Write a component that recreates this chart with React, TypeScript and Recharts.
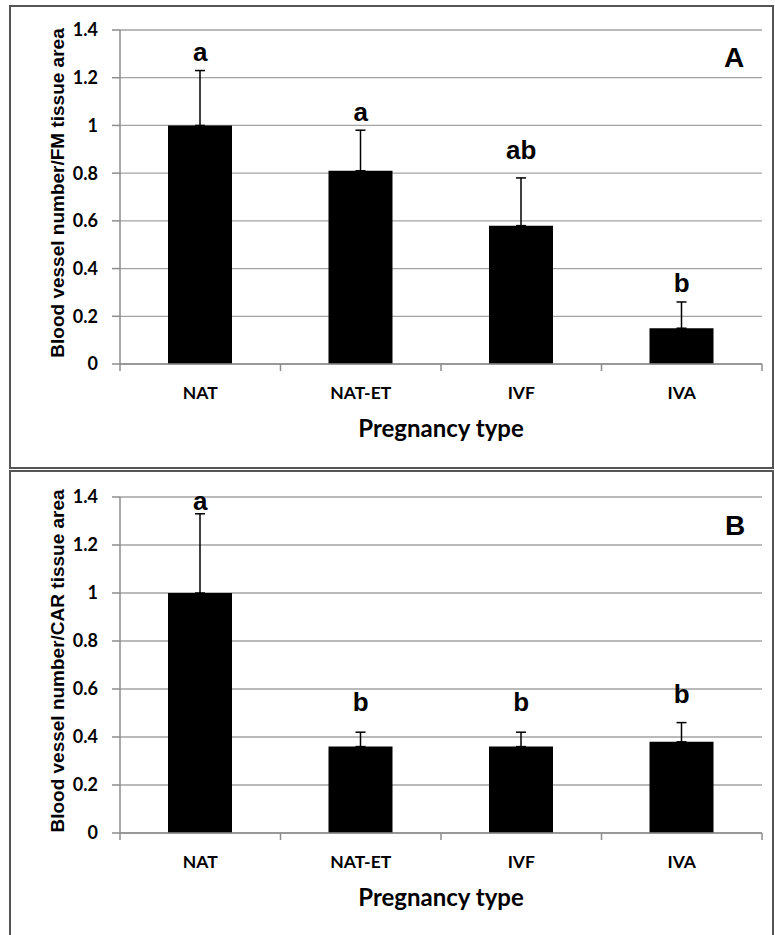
import React from 'react';
import { ComposedChart, Bar, Line, XAxis, YAxis, CartesianGrid, ErrorBar, LabelList } from 'recharts';

const categories = ['NAT', 'NAT-ET', 'IVF', 'IVA'];
const yTicks = [0, 0.2, 0.4, 0.6, 0.8, 1, 1.2, 1.4];

// panel A: FM tissue
const meanA = [1.0, 0.81, 0.58, 0.15];
const errTopA = [1.23, 0.98, 0.78, 0.26];
const lettersA = ['a', 'a', 'ab', 'b'];
const letterAtA = [1.27, 1.02, 0.86, 0.3];

// panel B: CAR tissue
const meanB = [1.0, 0.36, 0.36, 0.38];
const errTopB = [1.33, 0.42, 0.42, 0.46];
const lettersB = ['a', 'b', 'b', 'b'];
const letterAtB = [1.345, 0.51, 0.51, 0.54];

const CAL = 'Lato, "Open Sans", sans-serif';
const ARIAL = '"Liberation Sans", Arial, sans-serif';
const GRID = '#a3a3a3';
const AXIS = '#8c8c8c';
const X_TICK_MARGIN = 20;

function CatTick(props: any) {
  const { x, y, payload, index } = props;
  const half = payload && payload.offset ? payload.offset : 80.25;
  const axisY = y - X_TICK_MARGIN;
  return (
    <g>
      <line x1={x - half} x2={x - half} y1={axisY} y2={axisY + 7} stroke={AXIS} strokeWidth={1.5} />
      {index === categories.length - 1 && (
        <line x1={x + half} x2={x + half} y1={axisY} y2={axisY + 7} stroke={AXIS} strokeWidth={1.5} />
      )}
      <text x={x} y={axisY + 35} textAnchor="middle" fill="#000" fontFamily={CAL} fontWeight={700} fontSize={17.5}>
        {payload.value}
      </text>
    </g>
  );
}

function renderLetter(p: any) {
  return (
    <text x={p.x} y={p.y} textAnchor="middle" fill="#000" fontFamily={ARIAL} fontWeight={700} fontSize={26}>
      {p.value}
    </text>
  );
}

interface PanelProps {
  top: number;
  height: number;
  mean: number[];
  errTop: number[];
  letters: string[];
  letterAt: number[];
  yTitle: string;
}

function Panel({ top, height, mean, errTop, letters, letterAt, yTitle }: PanelProps) {
  const data = categories.map((c, i) => ({
    cat: c,
    mean: mean[i],
    err: [0, +(errTop[i] - mean[i]).toFixed(3)],
    letter: letters[i],
    letterAt: letterAt[i],
  }));

  return (
    <div style={{ position: 'absolute', left: 0, top }}>
      <ComposedChart width={775} height={height} data={data} margin={{ top: 30, right: 13, bottom: 0, left: 0 }}>
        <CartesianGrid vertical={false} stroke={GRID} strokeWidth={1.3} />
        <XAxis
          dataKey="cat"
          height={106}
          axisLine={{ stroke: AXIS, strokeWidth: 1.5 }}
          tickLine={false}
          tickSize={0}
          tickMargin={X_TICK_MARGIN}
          tick={<CatTick />}
          interval={0}
          label={{
            content: (lp: any) => {
              const vb = lp.viewBox;
              return (
                <text x={vb.x + vb.width / 2} y={vb.y + 73} textAnchor="middle" fill="#000" fontFamily={CAL} fontWeight={700} fontSize={24}>
                  Pregnancy type
                </text>
              );
            },
          }}
        />
        <XAxis xAxisId="top" dataKey="cat" orientation="top" height={0} tick={false} tickLine={false} axisLine={{ stroke: '#000', strokeWidth: 1.5 }} />
        <YAxis
          width={120}
          domain={[0, 1.4]}
          ticks={yTicks}
          axisLine={{ stroke: AXIS, strokeWidth: 1.5 }}
          tickLine={{ stroke: AXIS, strokeWidth: 1.5 }}
          tickSize={8}
          tickMargin={14}
          tick={{ fill: '#000', fontFamily: CAL, fontWeight: 700, fontSize: 18 }}
          label={{
            content: (lp: any) => {
              const vb = lp.viewBox;
              const cy = vb.y + vb.height / 2 - 4;
              return (
                <text
                  x={57}
                  y={cy}
                  transform={`rotate(-90 57 ${cy})`}
                  textAnchor="middle"
                  dominantBaseline="central"
                  fill="#000"
                  fontFamily={ARIAL}
                  fontWeight={700}
                  fontSize={19}
                >
                  {yTitle}
                </text>
              );
            },
          }}
        />
        <YAxis yAxisId="right" orientation="right" width={0} domain={[0, 1.4]} tick={false} tickLine={false} axisLine={{ stroke: '#000', strokeWidth: 1.5 }} />
        <Bar dataKey="mean" fill="#000" barSize={64} isAnimationActive={false}>
          <ErrorBar dataKey="err" direction="y" width={5} stroke="#000" strokeWidth={1.5} />
        </Bar>
        <Line dataKey="letterAt" stroke="none" dot={false} activeDot={false} isAnimationActive={false}>
          <LabelList dataKey="letter" content={renderLetter} />
        </Line>
      </ComposedChart>
    </div>
  );
}

const tagStyle: React.CSSProperties = {
  position: 'absolute',
  width: 40,
  textAlign: 'center',
  fontFamily: ARIAL,
  fontWeight: 700,
  fontSize: 28,
  lineHeight: '28px',
  color: '#000',
};

export default function App() {
  return (
    <div style={{ position: 'absolute', left: 0, top: 0, width: 775, height: 935, overflow: 'hidden', background: '#fff' }}>
      <div style={{ position: 'absolute', left: 9, top: 5, width: 761, height: 460, border: '2px solid #555' }} />
      <div style={{ position: 'absolute', left: 9, top: 470, width: 761, height: 480, border: '2px solid #555' }} />
      <Panel top={0} height={470} mean={meanA} errTop={errTopA} letters={lettersA} letterAt={letterAtA} yTitle="Blood vessel number/FM tissue area" />
      <Panel top={467} height={472} mean={meanB} errTop={errTopB} letters={lettersB} letterAt={letterAtB} yTitle="Blood vessel number/CAR tissue area" />
      <div style={{ ...tagStyle, left: 714, top: 44 }}>A</div>
      <div style={{ ...tagStyle, left: 715, top: 512 }}>B</div>
    </div>
  );
}
